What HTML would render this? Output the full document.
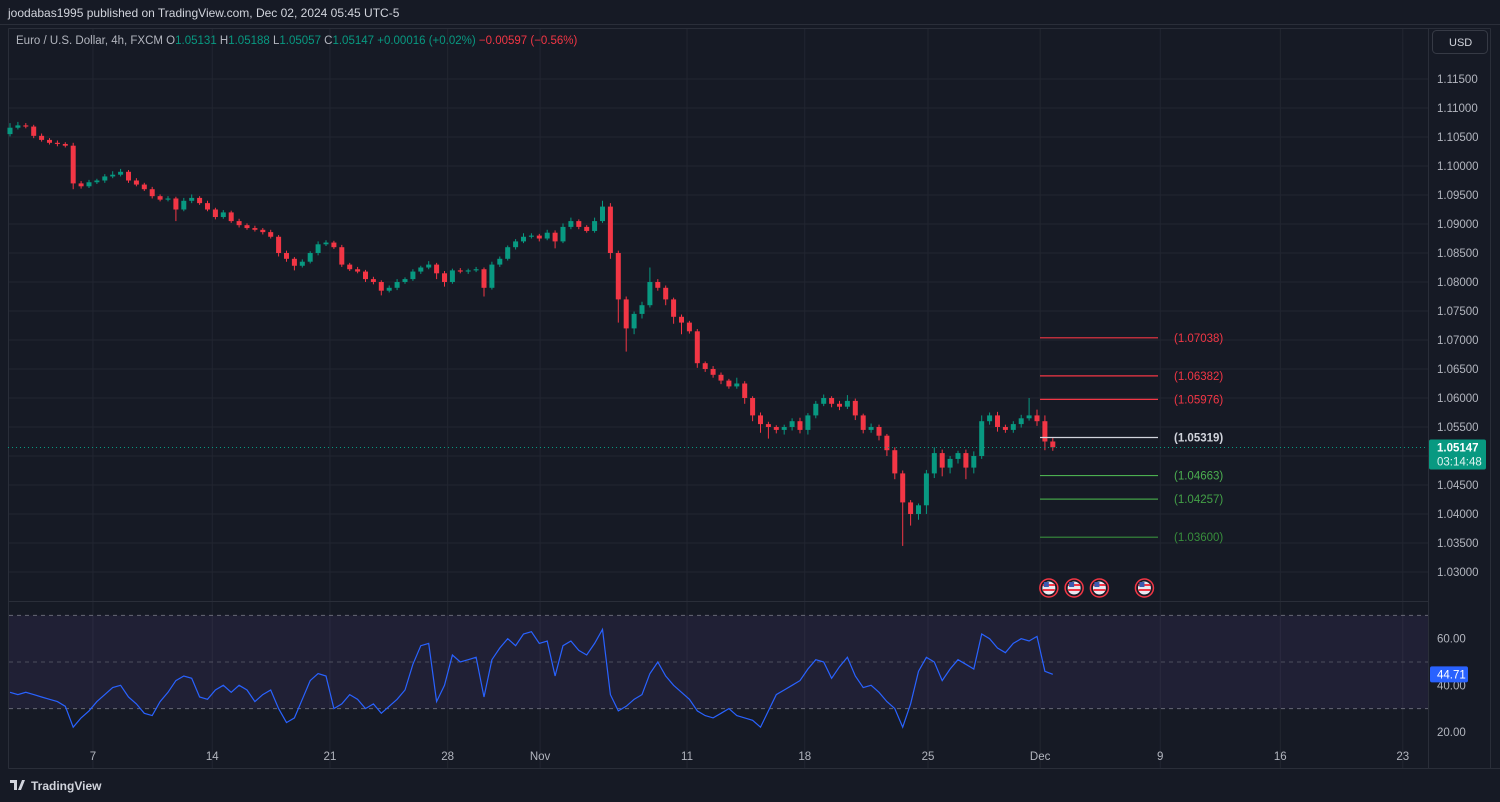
<!DOCTYPE html>
<html><head><meta charset="utf-8">
<style>
html,body{margin:0;padding:0;background:#161a25;}
svg{display:block;font-family:"Liberation Sans",sans-serif;}
</style></head>
<body>
<svg id="chart" width="1500" height="802" viewBox="0 0 1500 802" xmlns="http://www.w3.org/2000/svg">
<rect x="0" y="0" width="1500" height="802" fill="#161a25"/>
<line x1="0" y1="24.5" x2="1500" y2="24.5" stroke="#2a2e39"/>
<text x="8" y="17" fill="#d1d4dc" font-size="12">joodabas1995 published on TradingView.com, Dec 02, 2024 05:45 UTC-5</text>
<g id="grid"></g>
<g id="rsiPane"></g>
<g id="candles"></g>
<g id="fib"></g>
<g id="axes"></g>
<text x="16" y="44" font-size="11.5"><tspan fill="#b2b5be">Euro / U.S. Dollar, 4h, FXCM  O</tspan><tspan fill="#089981">1.05131</tspan><tspan fill="#b2b5be">  H</tspan><tspan fill="#089981">1.05188</tspan><tspan fill="#b2b5be">  L</tspan><tspan fill="#089981">1.05057</tspan><tspan fill="#b2b5be">  C</tspan><tspan fill="#089981">1.05147  +0.00016 (+0.02%)</tspan><tspan fill="#f23645">  −0.00597 (−0.56%)</tspan></text>
<rect x="1432.5" y="30.5" width="55" height="23" rx="4" fill="#161a25" stroke="#363a45"/>
<text x="1449" y="46" fill="#d1d4dc" font-size="11">USD</text>
<g>
<path d="M10 780 h7 v10 h-3 v-7 h-4z M18 790 l4 -10 h3 l-4 10z" fill="#d1d4dc"/>
<text x="31" y="790" fill="#d1d4dc" font-size="12" font-weight="bold">TradingView</text>
</g>
</svg>
<script>
const closes=[1.1066,1.1070,1.1068,1.1052,1.1045,1.1040,1.1038,1.1035,1.0970,1.0965,1.0972,1.0975,1.0982,1.0985,1.0990,1.0975,1.0968,1.0960,1.0948,1.0942,1.0944,1.0925,1.0940,1.0945,1.0936,1.0925,1.0912,1.0920,1.0905,1.0898,1.0893,1.0890,1.0886,1.0878,1.0850,1.0840,1.0828,1.0835,1.0850,1.0865,1.0868,1.0860,1.0830,1.0822,1.0818,1.0805,1.0800,1.0785,1.0790,1.0800,1.0805,1.0818,1.0825,1.0830,1.0815,1.0800,1.0820,1.0818,1.0820,1.0822,1.0790,1.0830,1.0840,1.0860,1.0870,1.0878,1.0880,1.0875,1.0885,1.0870,1.0895,1.0905,1.0895,1.0888,1.0905,1.0930,1.0850,1.0770,1.0720,1.0745,1.0760,1.0800,1.0790,1.0770,1.0740,1.0730,1.0715,1.0660,1.0650,1.0640,1.0630,1.0620,1.0625,1.0600,1.0570,1.0555,1.0550,1.0545,1.0550,1.0560,1.0545,1.0570,1.0590,1.0600,1.0590,1.0585,1.0595,1.0570,1.0545,1.0550,1.0535,1.0510,1.0470,1.0420,1.0400,1.0415,1.0470,1.0505,1.0480,1.0495,1.0505,1.0480,1.0500,1.0560,1.0570,1.0550,1.0545,1.0555,1.0565,1.0570,1.0560,1.0525,1.0515];
const opens=[1.1055,1.1066,1.1070,1.1068,1.1052,1.1045,1.1040,1.1038,1.1035,1.0970,1.0965,1.0972,1.0975,1.0982,1.0985,1.0990,1.0975,1.0968,1.0960,1.0948,1.0942,1.0944,1.0925,1.0940,1.0945,1.0936,1.0925,1.0912,1.0920,1.0905,1.0898,1.0893,1.0890,1.0886,1.0878,1.0850,1.0840,1.0828,1.0835,1.0850,1.0865,1.0868,1.0860,1.0830,1.0822,1.0818,1.0805,1.0800,1.0785,1.0790,1.0800,1.0805,1.0818,1.0825,1.0830,1.0815,1.0800,1.0820,1.0818,1.0820,1.0822,1.0790,1.0830,1.0840,1.0860,1.0870,1.0878,1.0880,1.0875,1.0885,1.0870,1.0895,1.0905,1.0895,1.0888,1.0905,1.0930,1.0850,1.0770,1.0720,1.0745,1.0760,1.0800,1.0790,1.0770,1.0740,1.0730,1.0715,1.0660,1.0650,1.0640,1.0630,1.0620,1.0625,1.0600,1.0570,1.0555,1.0550,1.0545,1.0550,1.0560,1.0545,1.0570,1.0590,1.0600,1.0590,1.0585,1.0595,1.0570,1.0545,1.0550,1.0535,1.0510,1.0470,1.0420,1.0400,1.0415,1.0470,1.0505,1.0480,1.0495,1.0505,1.0480,1.0500,1.0560,1.0570,1.0550,1.0545,1.0555,1.0565,1.0570,1.0560,1.0525];
const wickUp=[8,6,4,3,4,3,4,3,5,4,4,3,4,6,5,3,4,3,4,3,4,3,5,6,3,4,3,4,3,4,3,4,3,4,3,4,3,4,3,5,4,3,4,3,4,3,4,3,4,5,3,4,3,6,3,4,3,4,3,4,3,5,4,3,4,6,4,3,5,4,6,6,3,3,6,10,6,4,5,4,6,25,5,4,3,4,3,4,3,5,4,3,10,4,3,5,4,3,4,5,6,4,5,6,3,5,10,4,3,6,4,3,5,5,4,3,6,10,6,5,4,6,8,10,5,6,4,5,6,30,10,10,6];
const wickDn=[4,3,3,4,3,3,4,3,10,4,3,3,4,3,3,4,3,3,4,3,3,20,3,4,3,3,4,3,3,4,3,3,4,3,6,5,8,3,3,4,3,3,4,3,3,5,4,8,3,4,3,3,4,3,10,8,3,3,4,3,15,3,4,3,4,3,3,5,3,12,3,4,4,3,3,3,10,40,40,10,8,4,5,10,12,20,4,8,5,5,6,4,4,10,10,15,20,6,8,6,6,8,5,4,6,6,4,8,6,5,8,10,10,75,20,10,15,8,15,10,8,20,10,5,6,8,5,5,6,4,8,15,6];
const rsiVals=[37,36,37,36,35,34,33,31,22,26,29,33,36,39,40,35,32,28,27,33,37,42,44,43,35,34,38,40,37,40,38,33,36,38,30,24,26,34,42,45,44,30,32,36,34,30,32,28,31,34,38,49,57,58,33,40,53,50,51,52,35,51,56,60,57,62,63,58,59,44,57,59,55,53,58,64,36,29,31,34,36,45,50,44,40,37,34,29,27,26,28,30,27,26,25,22,29,36,38,40,42,47,51,50,43,48,52,44,39,40,37,33,30,22,32,46,52,50,42,47,51,49,47,62,60,56,54,58,60,59,61,46,44.7];
const priceTicks=[1.115,1.110,1.105,1.100,1.095,1.090,1.085,1.080,1.075,1.070,1.065,1.060,1.055,1.050,1.045,1.040,1.035,1.030];
const rsiTicks=[60,40,20];
const dateLabels=["7","14","21","28","Nov","11","18","25","Dec","9","16","23"];
const dateBars=[10.5,25.6,40.5,55.4,67.1,85.7,100.6,116.2,130.4,145.6,160.8,176.3];
const fibLevels=[1.07038,1.06382,1.05976,1.05319,1.04663,1.04257,1.03600];
const fibColors=["#f23645","#f23645","#f23645","#d1d4dc","#4caf50","#43a047","#388e3c"];
const lastPrice=1.05147;
const rsiLast=44.71;
const flagBars=[131.5,134.7,137.9,143.6];

const NS="http://www.w3.org/2000/svg";
const yP=p=>79+(1.115-p)*5800;
const yR=v=>662-(v-50)*2.33;
const xB=i=>10+i*7.9;
function mk(tag,attrs,parent){const e=document.createElementNS(NS,tag);for(const k in attrs)e.setAttribute(k,attrs[k]);parent.appendChild(e);return e;}
const grid=document.getElementById('grid'),cg=document.getElementById('candles'),fg=document.getElementById('fib'),ax=document.getElementById('axes'),rp=document.getElementById('rsiPane');

priceTicks.forEach(p=>{
  const l=mk('line',{x1:8,x2:1428,y1:yP(p),y2:yP(p),stroke:'#222631'},grid);
  
  
  const t=mk('text',{x:1437,y:yP(p)+4,fill:'#b2b5be','font-size':11.5},ax);
  t.textContent=p.toFixed(5);
  
  
});
dateBars.forEach((b,i)=>{
  const x=xB(b);
  const l=mk('line',{x1:x,x2:x,y1:28,y2:768,stroke:'#222631'},grid);
  
  
  const t=mk('text',{x:x,y:760,fill:'#b2b5be','font-size':11.5,'text-anchor':'middle'},ax);
  t.textContent=dateLabels[i];
  
  
});
[[8,28,8,768],[1428,28,1428,768],[8,601,1428,601],[8,768,1500,768],[1490,28,1490,768],[8,28,1490,28]].forEach(c=>{
  const l=mk('line',{x1:c[0]+.5,y1:c[1]+.5,x2:c[2]+.5,y2:c[3]+.5,stroke:'#2a2e39'},grid);
  
  
});

const band=mk('rect',{x:9,y:yR(70),width:1419,height:yR(30)-yR(70),fill:'rgba(126,87,194,0.1)'},rp);


[70,50,30].forEach(v=>{
  const l=mk('line',{x1:9,x2:1428,y1:yR(v),y2:yR(v),stroke:'#787b86','stroke-dasharray':'4,4','stroke-opacity':v===50?0.5:0.8},rp);
  
  
});
rsiTicks.forEach(v=>{
  const t=mk('text',{x:1437,y:yR(v)+4,fill:'#b2b5be','font-size':11.5},ax);
  t.textContent=v.toFixed(2);
  
  
});
const rsiPath=rsiVals.map((v,i)=>(i?'L':'M')+xB(i).toFixed(1)+','+yR(v).toFixed(1)).join(' ');
const rl=mk('path',{d:rsiPath,fill:'none',stroke:'#2962ff','stroke-width':1.2},rp);


const rb=mk('rect',{x:1430,y:yR(rsiLast)-8,width:38,height:16,fill:'#2962ff',rx:2},ax);


const rt=mk('text',{x:1437,y:yR(rsiLast)+4,fill:'#fff','font-size':11.5},ax);
rt.textContent=rsiLast.toFixed(2);



closes.forEach((c,i)=>{
  const o=opens[i],x=xB(i);
  const col=c>=o?'#089981':'#f23645';
  const hi=Math.max(o,c)+wickUp[i]/10000,lo=Math.min(o,c)-wickDn[i]/10000;
  const w=mk('line',{x1:x,x2:x,y1:yP(hi),y2:yP(lo),stroke:col,'stroke-width':1},cg);
  
  
  const top=yP(Math.max(o,c)),h=Math.max(1,yP(Math.min(o,c))-top);
  const b=mk('rect',{x:x-2.5,y:top,width:5,height:h,fill:col},cg);
  
  
});

const lp=mk('line',{x1:8,x2:1428,y1:yP(lastPrice),y2:yP(lastPrice),stroke:'#089981','stroke-dasharray':'1,3'},fg);


const lb=mk('rect',{x:1429,y:yP(lastPrice)-8,width:57,height:30,fill:'#089981',rx:2},ax);


const lt=mk('text',{x:1437,y:yP(lastPrice)+4,fill:'#fff','font-size':11.5,'font-weight':'bold'},ax);
lt.textContent=lastPrice.toFixed(5);


const ct=mk('text',{x:1437,y:yP(lastPrice)+18,fill:'#e0f2ef','font-size':11.5},ax);
ct.textContent='03:14:48';



fibLevels.forEach((p,i)=>{
  const l=mk('line',{x1:1040,x2:1158,y1:yP(p),y2:yP(p),stroke:fibColors[i],'stroke-width':1.2},fg);
  
  
  const t=mk('text',{x:1174,y:yP(p)+4,fill:fibColors[i],'font-size':11.5,'font-weight':i===3?'bold':'normal'},fg);
  t.textContent='('+p.toFixed(5)+')';
  
  
});

flagBars.forEach(b=>{
  const x=xB(b);
  const g=mk('g',{},fg);
  
  
  mk('circle',{cx:x,cy:588,r:9,fill:'#161a25',stroke:'#f23645','stroke-width':1.5},g);
  mk('circle',{cx:x,cy:588,r:6.5,fill:'#e8e8f0'},g);
  mk('rect',{x:x-6,y:584,width:12,height:2,fill:'#f23645'},g);
  mk('rect',{x:x-6,y:589,width:12,height:2,fill:'#f23645'},g);
  mk('rect',{x:x-5,y:582,width:5,height:5,fill:'#3c5ab0'},g);
});
</script>
</body></html>
